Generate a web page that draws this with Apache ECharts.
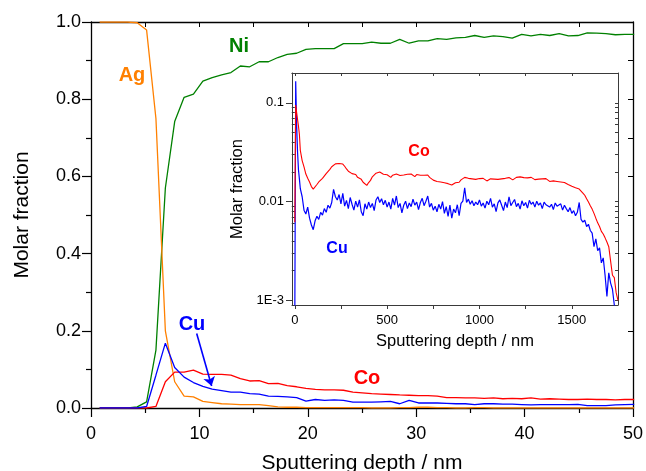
<!DOCTYPE html>
<html>
<head>
<meta charset="utf-8">
<script src="https://cdn.jsdelivr.net/npm/echarts@6/dist/echarts.min.js"></script>
<style>
  html, body { margin: 0; padding: 0; background: #fff; }
  #chart { width: 646px; height: 471px; }
</style>
</head>
<body>
<div id="chart"></div>
<script>
// ---- Near-surface profile (0-50 nm), molar fractions ----
const depth = [0.8, 1.67, 2.53, 3.4, 4.26, 5.13, 5.99, 6.86, 7.72, 8.59,
  9.45, 10.32, 11.18, 12.05, 12.91, 13.78, 14.64, 15.51, 16.37, 17.24,
  18.1, 18.97, 19.83, 20.7, 21.56, 22.43, 23.29, 24.16, 25.02, 25.89,
  26.75, 27.62, 28.48, 29.35, 30.21, 31.08, 31.94, 32.81, 33.67, 34.54,
  35.4, 36.27, 37.13, 38, 38.86, 39.73, 40.59, 41.46, 42.32, 43.19,
  44.05, 44.92, 45.78, 46.65, 47.51, 48.38, 49.24, 50.11];

const ag = [1, 1, 1, 1, 0.998, 0.979, 0.75, 0.2, 0.068, 0.031,
  0.029, 0.017, 0.014, 0.011, 0.01, 0.009, 0.009, 0.009, 0.006, 0.003,
  0.002, 0.002, 0.001, 0.001, 0.001, 0.001, 0.001, 0.001, 0.001, 0,
  0, 0, 0.001, 0.001, 0.002, 0.002, 0.001, 0.001, 0, 0,
  0.001, 0.001, 0, 0, 0, 0, 0, 0, 0, 0,
  0, 0, 0, 0, 0, 0, 0, 0];

const ni = [0, 0, 0, 0, 0.003, 0.016, 0.15, 0.57, 0.742, 0.805,
  0.813, 0.847, 0.856, 0.863, 0.869, 0.886, 0.884, 0.897, 0.897, 0.908,
  0.916, 0.919, 0.929, 0.931, 0.931, 0.931, 0.944, 0.944, 0.944, 0.948,
  0.945, 0.945, 0.955, 0.945, 0.951, 0.951, 0.957, 0.955, 0.959, 0.96,
  0.965, 0.96, 0.964, 0.962, 0.958, 0.968, 0.964, 0.968, 0.965, 0.97,
  0.964, 0.965, 0.972, 0.971, 0.97, 0.967, 0.968, 0.968];

const cu = [0, 0, 0, 0, 0, 0.004, 0.085, 0.168, 0.105, 0.08,
  0.066, 0.056, 0.049, 0.045, 0.041, 0.041, 0.037, 0.036, 0.031, 0.03,
  0.029, 0.027, 0.018, 0.022, 0.02, 0.021, 0.02, 0.015, 0.015, 0.015,
  0.016, 0.017, 0.011, 0.02, 0.013, 0.013, 0.013, 0.012, 0.011, 0.011,
  0.009, 0.011, 0.011, 0.01, 0.01, 0.009, 0.008, 0.009, 0.009, 0.009,
  0.009, 0.0095, 0.006, 0.006, 0.006, 0.008, 0.009, 0.0095];

const co = [0, 0, 0, 0, 0, 0, 0.004, 0.068, 0.093, 0.093,
  0.098, 0.088, 0.087, 0.087, 0.085, 0.076, 0.07, 0.071, 0.063, 0.064,
  0.058, 0.055, 0.051, 0.048, 0.047, 0.047, 0.046, 0.041, 0.039, 0.037,
  0.036, 0.035, 0.034, 0.033, 0.032, 0.032, 0.031, 0.027, 0.027, 0.026,
  0.026, 0.025, 0.026, 0.024, 0.025, 0.024, 0.026, 0.023, 0.024, 0.023,
  0.022, 0.022, 0.023, 0.022, 0.022, 0.021, 0.022, 0.022];

// ---- Full-depth profile (0-1750 nm), log scale ----
const insetDepth = [0, 5, 10, 15, 20, 25, 30,
  40, 50, 60, 70, 80, 90, 100,
  110, 120, 130, 140, 150, 160, 170, 180, 190, 200,
  210, 220, 230, 240, 250, 260, 270, 280, 290, 300,
  310, 320, 330, 340, 350, 360, 370, 380, 390, 400,
  410, 420, 430, 440, 450, 460, 470, 480, 490, 500,
  510, 520, 530, 540, 550, 560, 570, 580, 590, 600,
  610, 620, 630, 640, 650, 660, 670, 680, 690, 700,
  710, 720, 730, 740, 750, 760, 770, 780, 790, 800,
  810, 820, 830, 840, 850, 860, 870, 880, 890, 900,
  910, 920, 930, 940, 950, 960, 970, 980, 990, 1000,
  1010, 1020, 1030, 1040, 1050, 1060, 1070, 1080, 1090, 1100,
  1110, 1120, 1130, 1140, 1150, 1160, 1170, 1180, 1190, 1200,
  1210, 1220, 1230, 1240, 1250, 1260, 1270, 1280, 1290, 1300,
  1310, 1320, 1330, 1340, 1350, 1360, 1370, 1380, 1390, 1400,
  1410, 1420, 1430, 1440, 1450, 1460, 1470, 1480, 1490, 1500,
  1510, 1520, 1530, 1540, 1550, 1560, 1570, 1580, 1590, 1600,
  1610, 1620, 1630, 1640, 1650, 1660, 1670, 1680, 1690, 1700,
  1710, 1720, 1730, 1740, 1750];

const insetCo = [0.0062, 0.095, 0.080, 0.068, 0.058, 0.048, 0.033,
  0.026, 0.0225, 0.019, 0.0172, 0.0158, 0.0142, 0.0134,
  0.0138, 0.0149, 0.0158, 0.0165, 0.0172, 0.0178, 0.0192, 0.0200, 0.0212, 0.0225,
  0.0232, 0.0241, 0.0246, 0.0243, 0.0238, 0.0240, 0.0228, 0.0214, 0.0203, 0.0196,
  0.0192, 0.0185, 0.0188, 0.0176, 0.0171, 0.0168, 0.0157, 0.0150, 0.0146, 0.0156,
  0.0164, 0.0178, 0.0186, 0.0194, 0.0202, 0.0199, 0.0193, 0.0189, 0.0184, 0.0187,
  0.0180, 0.0176, 0.0185, 0.0179, 0.0190, 0.0194, 0.0184, 0.0192, 0.0186, 0.0180,
  0.0189, 0.0183, 0.0190, 0.0186, 0.0179, 0.0188, 0.0181, 0.0185, 0.0190, 0.0185,
  0.0178, 0.0186, 0.0176, 0.0170, 0.0165, 0.0168, 0.0160, 0.0164, 0.0158, 0.0162,
  0.0155, 0.0159, 0.0152, 0.0156, 0.0147, 0.0150, 0.0155, 0.0160, 0.0157, 0.0166,
  0.0172, 0.0176, 0.0181, 0.0172, 0.0178, 0.0170, 0.0175, 0.0168, 0.0174, 0.0171,
  0.0165, 0.0172, 0.0168, 0.0162, 0.0166, 0.0170, 0.0164, 0.0169, 0.0173, 0.0168,
  0.0174, 0.0170, 0.0166, 0.0172, 0.0168, 0.0175, 0.0170, 0.0166, 0.0171, 0.0176,
  0.0170, 0.0178, 0.0172, 0.0175, 0.0169, 0.0174, 0.0170, 0.0176, 0.0171, 0.0167,
  0.0173, 0.0169, 0.0164, 0.0170, 0.0166, 0.0171, 0.0165, 0.0160, 0.0167, 0.0162,
  0.0168, 0.0160, 0.0165, 0.0158, 0.0163, 0.0156, 0.0151, 0.0149, 0.0146, 0.0143,
  0.0141, 0.0138, 0.0136, 0.0134, 0.0128, 0.0122, 0.0116, 0.0107, 0.0099, 0.0091,
  0.0084, 0.0076, 0.0068, 0.0061, 0.0056, 0.0050, 0.0047, 0.0043, 0.0039, 0.0035,
  0.0025, 0.0018, 0.0017, 0.0012, 0.0010];

const insetCu = [0.0005, 0.165, 0.060, 0.032, 0.021, 0.017, 0.0135,
  0.0112, 0.0082, 0.0075, 0.0088, 0.0068, 0.0058, 0.0052,
  0.0064, 0.0071, 0.0066, 0.0078, 0.0073, 0.0085, 0.0078, 0.0092, 0.0086, 0.0098,
  0.0133, 0.0112, 0.0104, 0.0118, 0.0095, 0.0121, 0.0090, 0.0103, 0.0085, 0.0110,
  0.0094, 0.0082, 0.0101, 0.0088, 0.0104, 0.0079, 0.0072, 0.0095, 0.0084, 0.0099,
  0.0087, 0.0096, 0.0081, 0.0104, 0.0112, 0.0098, 0.0107, 0.0093, 0.0103, 0.0088,
  0.0099, 0.0084, 0.0108, 0.0092, 0.0114, 0.0087, 0.0096, 0.0077, 0.0092, 0.0101,
  0.0085, 0.0097, 0.0089, 0.0106, 0.0092, 0.0099, 0.0083, 0.0098, 0.0108, 0.0091,
  0.0101, 0.0114, 0.0088, 0.0096, 0.0082, 0.0090, 0.0079, 0.0094, 0.0084, 0.0100,
  0.0076, 0.0089, 0.0071, 0.0092, 0.0068, 0.0084, 0.0077, 0.0093, 0.0072, 0.0096,
  0.0101, 0.0138, 0.0098, 0.0106, 0.0094, 0.0102, 0.0091, 0.0099, 0.0093, 0.0104,
  0.0090, 0.0097, 0.0086, 0.0101, 0.0093, 0.0108, 0.0088, 0.0095, 0.0079, 0.0097,
  0.0104, 0.0092, 0.0081, 0.0099, 0.0087, 0.0112, 0.0091, 0.0098, 0.0105, 0.0089,
  0.0096, 0.0084, 0.0102, 0.0091, 0.0098, 0.0086, 0.0103, 0.0094, 0.0099, 0.0088,
  0.0101, 0.0092, 0.0097, 0.0085, 0.0099, 0.0093, 0.0096, 0.0088, 0.0094, 0.0083,
  0.0097, 0.0090, 0.0086, 0.0095, 0.0082, 0.0092, 0.0085, 0.0079, 0.0087, 0.0076,
  0.0081, 0.0072, 0.0078, 0.0098, 0.0066, 0.0062, 0.0065, 0.0056, 0.0059, 0.0051,
  0.0048, 0.0035, 0.0042, 0.0032, 0.0034, 0.0024, 0.0027, 0.0018, 0.0011, 0.0019,
  0.0015, 0.0013, 0.0009, 0.0008, 0.0007];

// Tick values
const insetXLabels = [0, 500, 1000, 1500];
const insetXTicks = [0, 250, 500, 750, 1000, 1250, 1500];
const insetXTopTicks = [0, 250, 500, 750, 1000, 1250, 1500, 1750];
const logMajor = [0.001, 0.01, 0.1];
const logMinor = [0.002, 0.003, 0.004, 0.005, 0.006, 0.007, 0.008, 0.009,
  0.02, 0.03, 0.04, 0.05, 0.06, 0.07, 0.08, 0.09, 0.2];

// Arrow pointing from the Cu label to the Cu curve (data coordinates)
const cuArrow = [[9.75, 0.193], [11.13, 0.057]];

const FONT = '"Liberation Sans", Arial, Helvetica, sans-serif';
const COL = { ag: '#ff8000', ni: '#008000', cu: '#0000ff', co: '#ff0000' };
const AX = '#000';
const AX2 = '#3a3a3a';

const pairs = (xs, ys) => xs.map((x, i) => [x, ys[i]]);
const logLabel = v => (v < 0.005 ? '1E-3' : v < 0.05 ? '0.01' : '0.1');

const chart = echarts.init(document.getElementById('chart'), null, { renderer: 'canvas' });

const lineSeries = (name, data, color, extra) => Object.assign({
  name, type: 'line', data, xAxisIndex: 0, yAxisIndex: 0,
  showSymbol: false, symbol: 'none', smooth: false,
  lineStyle: { color, width: 1.3 }, itemStyle: { color },
  emphasis: { disabled: true }, silent: true, z: 3
}, extra || {});

const option = {
  animation: false,
  backgroundColor: '#fff',
  grid: [
    { left: 91, top: 22, width: 542, height: 386, outerBoundsMode: 'none', containLabel: false },
    { left: 292, top: 73, width: 326, height: 232, outerBoundsMode: 'none', containLabel: false,
      show: true, backgroundColor: '#fff', borderWidth: 0, z: 5 }
  ],
  xAxis: [
    {
      gridIndex: 0, type: 'value', position: 'bottom', min: 0, max: 50, interval: 10,
      axisLine: { show: true, onZero: false, lineStyle: { color: AX, width: 1.3 } },
      axisTick: { show: true, length: 9, lineStyle: { color: AX, width: 1.2 } },
      minorTick: { show: true, splitNumber: 2, length: 5, lineStyle: { color: AX, width: 1.2 } },
      axisLabel: { color: AX, fontSize: 18, fontFamily: FONT, margin: 17 },
      splitLine: { show: false },
      name: 'Sputtering depth / nm', nameLocation: 'middle', nameGap: 45,
      nameTextStyle: { color: AX, fontSize: 21, fontFamily: FONT }
    },
    {
      gridIndex: 0, type: 'value', position: 'top', min: 0, max: 50, interval: 5,
      axisLine: { show: true, onZero: false, lineStyle: { color: AX, width: 1.3 } },
      axisTick: { show: true, inside: true, length: 5, lineStyle: { color: AX, width: 1 } },
      axisLabel: { show: false }, splitLine: { show: false }
    },
    {
      gridIndex: 1, type: 'value', position: 'bottom', min: -15, max: 1750,
      axisLine: { show: true, onZero: false, lineStyle: { color: AX2, width: 1 } },
      axisTick: { show: true, customValues: insetXTicks, length: 4, lineStyle: { color: AX2 } },
      axisLabel: { customValues: insetXLabels, formatter: v => String(v), color: AX, fontSize: 13, fontFamily: FONT, margin: 9 },
      splitLine: { show: false },
      name: 'Sputtering depth / nm', nameLocation: 'middle', nameGap: 28,
      nameTextStyle: { color: AX, fontSize: 16.5, fontFamily: FONT }, z: 6
    },
    {
      gridIndex: 1, type: 'value', position: 'top', min: -15, max: 1750,
      axisLine: { show: true, onZero: false, lineStyle: { color: AX2, width: 1 } },
      axisTick: { show: true, inside: true, customValues: insetXTopTicks, length: 3, lineStyle: { color: AX2 } },
      axisLabel: { show: false }, splitLine: { show: false }, z: 6
    }
  ],
  yAxis: [
    {
      gridIndex: 0, type: 'value', position: 'left', min: 0, max: 1, interval: 0.2,
      axisLine: { show: true, onZero: false, lineStyle: { color: AX, width: 1.3 } },
      axisTick: { show: true, length: 9, lineStyle: { color: AX, width: 1.2 } },
      minorTick: { show: true, splitNumber: 2, length: 5, lineStyle: { color: AX, width: 1.2 } },
      axisLabel: { color: AX, fontSize: 18, fontFamily: FONT, margin: 10, formatter: v => v.toFixed(1) },
      splitLine: { show: false },
      name: 'Molar fraction', nameLocation: 'middle', nameGap: 58,
      nameTextStyle: { color: AX, fontSize: 21, fontFamily: FONT }
    },
    {
      gridIndex: 0, type: 'value', position: 'right', min: 0, max: 1, interval: 0.1,
      axisLine: { show: true, onZero: false, lineStyle: { color: AX, width: 1.3 } },
      axisTick: { show: true, inside: true, length: 5, lineStyle: { color: AX, width: 1 } },
      axisLabel: { show: false }, splitLine: { show: false }
    },
    {
      gridIndex: 1, type: 'log', position: 'left', min: 0.0009, max: 0.2,
      axisLine: { show: true, onZero: false, lineStyle: { color: AX2, width: 1 } },
      axisTick: { show: true, customValues: logMajor, length: 6, lineStyle: { color: AX2 } },
      axisLabel: { customValues: logMajor, formatter: logLabel, color: AX, fontSize: 13, fontFamily: FONT, margin: 8 },
      splitLine: { show: false }, minorTick: { show: false },
      name: 'Molar fraction', nameLocation: 'middle', nameGap: 44,
      nameTextStyle: { color: AX, fontSize: 16.5, fontFamily: FONT }, z: 6
    },
    {
      gridIndex: 1, type: 'log', position: 'left', min: 0.0009, max: 0.2,
      axisLine: { show: false },
      axisTick: { show: true, customValues: logMinor, length: 3, lineStyle: { color: AX2 } },
      axisLabel: { show: false }, splitLine: { show: false }, z: 6
    },
    {
      gridIndex: 1, type: 'log', position: 'right', min: 0.0009, max: 0.2,
      axisLine: { show: true, onZero: false, lineStyle: { color: AX2, width: 1 } },
      axisTick: { show: true, inside: true, customValues: logMajor.concat(logMinor), length: 3, lineStyle: { color: AX2 } },
      axisLabel: { show: false }, splitLine: { show: false }, z: 6
    }
  ],
  series: [
    lineSeries('Ni', pairs(depth, ni), COL.ni),
    lineSeries('Ag', pairs(depth, ag), COL.ag),
    lineSeries('Co', pairs(depth, co), COL.co),
    lineSeries('Cu', pairs(depth, cu), COL.cu, {
      markLine: {
        silent: true, animation: false,
        symbol: ['none', 'arrow'], symbolSize: 9,
        lineStyle: { color: COL.cu, width: 1.6, type: 'solid' },
        label: { show: false }, emphasis: { disabled: true },
        data: [[{ coord: cuArrow[0] }, { coord: cuArrow[1] }]]
      }
    }),
    lineSeries('Cu (full depth)', pairs(insetDepth, insetCu), COL.cu,
      { xAxisIndex: 2, yAxisIndex: 2, z: 7, lineStyle: { color: COL.cu, width: 1.2 } }),
    lineSeries('Co (full depth)', pairs(insetDepth, insetCo), COL.co,
      { xAxisIndex: 2, yAxisIndex: 2, z: 7, lineStyle: { color: COL.co, width: 1.1 } })
  ],
  graphic: [
    { type: 'text', x: 132, y: 75, z: 10, style: { text: 'Ag', fill: COL.ag, font: 'bold 20px ' + FONT, textAlign: 'center', textVerticalAlign: 'middle' } },
    { type: 'text', x: 239, y: 46, z: 10, style: { text: 'Ni', fill: COL.ni, font: 'bold 20px ' + FONT, textAlign: 'center', textVerticalAlign: 'middle' } },
    { type: 'text', x: 192, y: 324, z: 10, style: { text: 'Cu', fill: COL.cu, font: 'bold 20px ' + FONT, textAlign: 'center', textVerticalAlign: 'middle' } },
    { type: 'text', x: 367, y: 378, z: 10, style: { text: 'Co', fill: COL.co, font: 'bold 20px ' + FONT, textAlign: 'center', textVerticalAlign: 'middle' } },
    { type: 'text', x: 419, y: 152, z: 10, style: { text: 'Co', fill: COL.co, font: 'bold 16px ' + FONT, textAlign: 'center', textVerticalAlign: 'middle' } },
    { type: 'text', x: 337, y: 249, z: 10, style: { text: 'Cu', fill: COL.cu, font: 'bold 16px ' + FONT, textAlign: 'center', textVerticalAlign: 'middle' } }
  ]
};

chart.setOption(option);
</script>
</body>
</html>
